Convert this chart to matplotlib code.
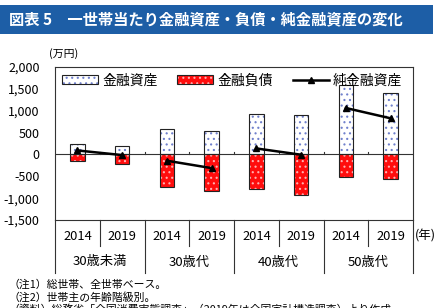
import matplotlib
matplotlib.use("Agg")
import matplotlib.pyplot as plt
from matplotlib.patches import Rectangle, Patch
from matplotlib.lines import Line2D
import numpy as np

plt.rcParams["font.family"] = ["Noto Sans CJK JP", "DejaVu Sans"]
plt.rcParams["hatch.linewidth"] = 0.8

YEARS = ["2014", "2019", "2014", "2019", "2014", "2019", "2014", "2019"]
AGES = ["30歳未満", "30歳代", "40歳代", "50歳代"]
ASSETS = [245, 195, 590, 527, 924, 910, 1582, 1399]
DEBTS = [-154, -210, -734, -840, -787, -917, -520, -573]
NET = [91, -15, -144, -313, 137, -7, 1062, 826]

TITLE = "図表 5　一世帯当たり金融資産・負債・純金融資産の変化"
NOTES = ["（注1）総世帯、全世帯ベース。",
         "（注2）世帯主の年齢階級別。",
         "（資料）総務省「全国消費実態調査」（2019年は全国家計構造調査）より作成。"]

ASSET_HATCH = dict(facecolor="white", edgecolor="#7080cc", hatch="...", lw=0)
DEBT_HATCH = dict(facecolor="#ff0d0d", edgecolor="#ffb0b0", hatch="...", lw=0)
OUTLINE = dict(fill=False, edgecolor="#222", lw=0.8)

W, H = 445, 308
fig = plt.figure(figsize=(W / 100, H / 100), dpi=100)
fig.patch.set_facecolor("white")

# title band
fig.patches.append(Rectangle((0, 1 - 34 / H), 433 / W, 29 / H, transform=fig.transFigure,
                             facecolor="#1d5ea6", edgecolor="none"))
fig.text(9 / W, 1 - 19.5 / H, TITLE, color="white", fontsize=11, fontweight="bold",
         va="center", ha="left")

ax = fig.add_axes([55 / W, 1 - 220 / H, 358 / W, 153 / H])
x = np.arange(len(YEARS))
bw = 0.32
# fills with dotted hatches, then black outlines
ax.bar(x, ASSETS, bw, zorder=2, **ASSET_HATCH)
ax.bar(x, DEBTS, bw, zorder=2, **DEBT_HATCH)
ax.bar(x, ASSETS, bw, zorder=3, **OUTLINE)
ax.bar(x, DEBTS, bw, zorder=3, **OUTLINE)
for g in range(len(AGES)):
    ax.plot(x[2 * g:2 * g + 2], NET[2 * g:2 * g + 2], "-^", color="black", lw=1.8,
            ms=5, zorder=4)

ax.axhline(0, color="#333", lw=0.8, zorder=1)
for b in np.arange(0.5, len(YEARS) - 1, 1):
    ax.plot([b, b], [0, 45], color="#333", lw=0.8, zorder=1)

ax.set_xlim(-0.5, len(YEARS) - 0.5)
ax.set_ylim(-1500, 2000)
ticks = np.arange(-1500, 2001, 500)
ax.set_yticks(ticks)
ax.set_yticklabels([f"{v:,}" for v in ticks], fontsize=9)
ax.tick_params(axis="y", length=0, pad=11)
ax.set_xticks([])
for s in ax.spines.values():
    s.set_color("#333")
    s.set_linewidth(0.8)

fig.text(64 / W, 1 - 54 / H, "(万円)", fontsize=7.8, ha="center", va="center")

handles = [(Patch(**ASSET_HATCH), Patch(**OUTLINE)),
           (Patch(**DEBT_HATCH), Patch(**OUTLINE)),
           Line2D([0], [0], color="black", lw=1.8, marker="^", ms=5)]
ax.legend(handles, ["金融資産", "金融負債", "純金融資産"], ncol=3, frameon=False,
          loc="upper left", bbox_to_anchor=(-0.015, 1.04), fontsize=10,
          handlelength=2.6, handleheight=0.6, columnspacing=1.4, handletextpad=0.3)

# category table below the axes
tr = ax.get_xaxis_transform()
y_year, y_age = -26 / 153, -53 / 153
for i, yr in enumerate(YEARS):
    ax.text(i, -16 / 153, yr, transform=tr, ha="center", va="center", fontsize=9.3, clip_on=False)
for g, a in enumerate(AGES):
    ax.text(2 * g + 0.5, -42 / 153, a, transform=tr, ha="center", va="center", fontsize=9.5,
            clip_on=False)
for k in range(len(YEARS) + 1):
    b = k - 0.5
    low = y_age if k % 2 == 0 else y_year
    ax.plot([b, b], [0, low], transform=tr, color="#333", lw=0.8, clip_on=False)
ax.text(1.005, -16 / 153, "(年)", transform=ax.transAxes, ha="left", va="center", fontsize=9)

for i, n in enumerate(NOTES):
    fig.text(8 / W, 1 - (285 + 12.5 * i) / H, n, fontsize=7.8, ha="left", va="center")

fig.savefig("out.png", dpi=100)
